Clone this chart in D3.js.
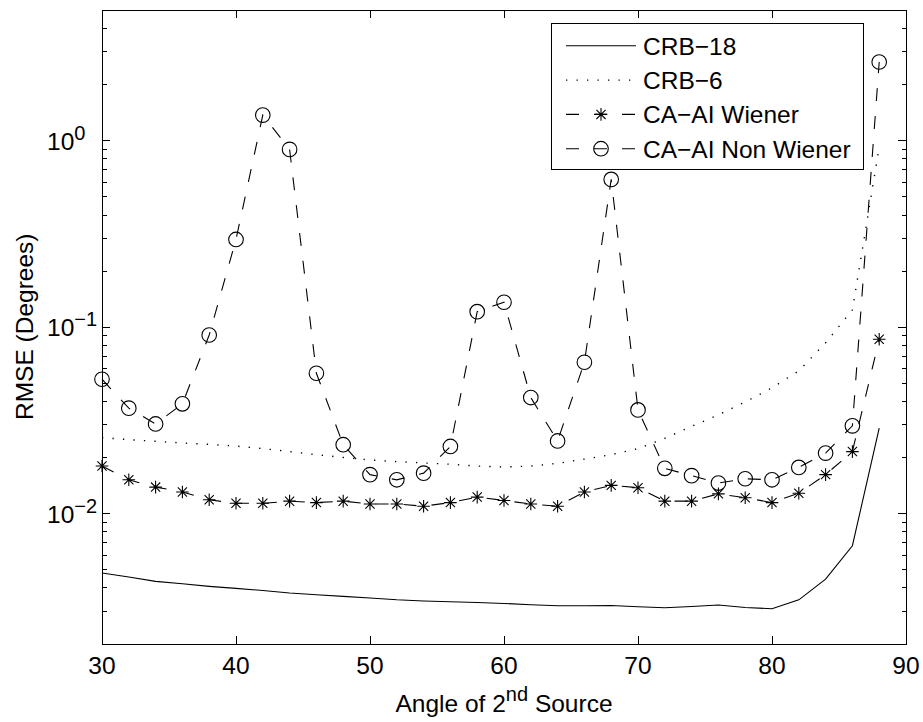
<!DOCTYPE html>
<html>
<head>
<meta charset="utf-8">
<script src="https://cdn.jsdelivr.net/npm/d3@7"></script>
<style>
  body { margin: 0; background: #fff; }
  text { font-family: 'Liberation Sans', Arial, Helvetica, sans-serif; fill: #000; }
</style>
</head>
<body>
<div id="chart"></div>
<script>
// angle of the 2nd source (degrees)
const angles = [30, 32, 34, 36, 38, 40, 42, 44, 46, 48, 50, 52, 54, 56, 58,
  60, 62, 64, 66, 68, 70, 72, 74, 76, 78, 80, 82, 84, 86, 88]

// RMSE values (degrees)
const crb18 = [0.00478, 0.00455, 0.00431, 0.00418, 0.00405, 0.00395, 0.00385, 0.00373, 0.00365, 0.00358,
  0.00351, 0.00343, 0.00338, 0.00335, 0.00332, 0.00328, 0.00323, 0.00319, 0.00319, 0.0032,
  0.00315, 0.00311, 0.00316, 0.00322, 0.00312, 0.00307, 0.00343, 0.00443, 0.00669, 0.0286]
const crb6 = [0.0254, 0.0248, 0.0243, 0.0238, 0.0234, 0.0229, 0.0222, 0.0214, 0.0206, 0.0199,
  0.0193, 0.0189, 0.0186, 0.0183, 0.0179, 0.0177, 0.0179, 0.0185, 0.0195, 0.0206,
  0.0222, 0.0252, 0.0292, 0.0337, 0.0395, 0.047, 0.058, 0.082, 0.123, 0.92]
const wiener = [0.0179, 0.0151, 0.0138, 0.0130, 0.0118, 0.0113, 0.0113, 0.0116, 0.0114, 0.0116,
  0.0112, 0.0112, 0.0109, 0.0114, 0.0122, 0.0117, 0.0112, 0.0109, 0.0130, 0.0141,
  0.0137, 0.0116, 0.0116, 0.0127, 0.0121, 0.0114, 0.0128, 0.0161, 0.0214, 0.0857]
const nonWiener = [0.0523, 0.0366, 0.0301, 0.0386, 0.0903, 0.294, 1.365, 0.894, 0.0563, 0.0233,
  0.0161, 0.0151, 0.0164, 0.0228, 0.1205, 0.1353, 0.0417, 0.0244, 0.0645, 0.617,
  0.0358, 0.0174, 0.0159, 0.0145, 0.0153, 0.0151, 0.0176, 0.0210, 0.0294, 2.63]

const seriesNames = ['CRB\u221218', 'CRB\u22126', 'CA\u2212AI Wiener', 'CA\u2212AI Non Wiener']
const xTicks = [30, 40, 50, 60, 70, 80, 90]
const yExponents = [-2, -1, 0]
const yDecades = [0.001, 0.01, 0.1, 1]
const mantissas = [2, 3, 4, 5, 6, 7, 8, 9]

const width = 923
const height = 722
const plot = { left: 102, right: 906, top: 10, bottom: 643.5 }
const fontSize = 24.5

const xScale = d3.scaleLinear()
    .domain([30, 90])
    .range([plot.left, plot.right])

const yScale = d3.scaleLog()
    .domain([0.002, 5])
    .range([plot.bottom, plot.top])

const yMajor = yExponents.map(e => Math.pow(10, e))
const yMinor = []
yDecades.forEach(d => mantissas.forEach(m => {
  const v = +(d * m).toPrecision(3)
  if (v >= 0.002 && v <= 5) yMinor.push(v)
}))

const svg = d3.select('#chart').append('svg')
    .attr('width', width)
    .attr('height', height)
    .style('display', 'block')
    .style('background', '#fff')

// axes: ticks point inward on all four sides
function styleAxis(g) {
  g.selectAll('path, line')
      .attr('stroke', '#000')
      .attr('stroke-width', 1)
  g.selectAll('text').remove()
}

svg.append('g')
    .attr('transform', `translate(0, ${plot.bottom})`)
    .attr('shape-rendering', 'crispEdges')
    .call(d3.axisBottom(xScale).tickValues(xTicks).tickSize(-8).tickSizeOuter(0))
    .call(styleAxis)

svg.append('g')
    .attr('transform', `translate(0, ${plot.top})`)
    .attr('shape-rendering', 'crispEdges')
    .call(d3.axisTop(xScale).tickValues(xTicks).tickSize(-8).tickSizeOuter(0))
    .call(styleAxis)

const axisSides = [
  { axis: d3.axisLeft, x: plot.left },
  { axis: d3.axisRight, x: plot.right }
]
axisSides.forEach(side => {
  svg.append('g')
      .attr('transform', `translate(${side.x}, 0)`)
      .attr('shape-rendering', 'crispEdges')
      .call(side.axis(yScale).tickValues(yMajor).tickSize(-8).tickSizeOuter(0))
      .call(styleAxis)
  svg.append('g')
      .attr('transform', `translate(${side.x}, 0)`)
      .attr('shape-rendering', 'crispEdges')
      .call(side.axis(yScale).tickValues(yMinor).tickSize(-4.5).tickSizeOuter(0))
      .call(styleAxis)
})

// tick labels
svg.append('g').selectAll('text')
    .data(xTicks).enter()
  .append('text')
    .attr('x', d => xScale(d))
    .attr('y', 674)
    .attr('text-anchor', 'middle')
    .attr('font-size', fontSize)
    .text(d => d)

const yLabels = svg.append('g').selectAll('text')
    .data(yExponents).enter()
  .append('text')
    .attr('x', 47)
    .attr('y', e => yScale(Math.pow(10, e)) + 9.5)
    .attr('font-size', fontSize)
yLabels.append('tspan').text('10')
yLabels.append('tspan')
    .attr('dy', -10)
    .attr('font-size', 20)
    .text(e => e < 0 ? '\u2212' + Math.abs(e) : e)

// axis titles
const xTitle = svg.append('text')
    .attr('x', (plot.left + plot.right) / 2)
    .attr('y', 711.5)
    .attr('text-anchor', 'middle')
    .attr('font-size', fontSize)
xTitle.append('tspan').text('Angle of 2')
xTitle.append('tspan').attr('dy', -11).attr('font-size', 20).text('nd')
xTitle.append('tspan').attr('dy', 11).text(' Source')

svg.append('text')
    .attr('transform', `translate(33, ${(plot.top + plot.bottom) / 2}) rotate(-90)`)
    .attr('text-anchor', 'middle')
    .attr('font-size', fontSize)
    .text('RMSE (Degrees)')

// series
const styles = [
  { values: crb18, dash: null, marker: null },
  { values: crb6, dash: '1.3 9.2', marker: null, cap: 'round' },
  { values: wiener, dash: '13 15', marker: 'star' },
  { values: nonWiener, dash: '13 15', marker: 'circle' }
]

const line = d3.line()
    .x(d => xScale(d[0]))
    .y(d => yScale(d[1]))

const dataLayer = svg.append('g')

styles.forEach(s => {
  const pts = angles.map((a, i) => [a, s.values[i]])
  dataLayer.append('path')
      .datum(pts)
      .attr('fill', 'none')
      .attr('stroke', '#000')
      .attr('stroke-width', s.dash && s.dash.startsWith('1.3') ? 1.4 : 1.1)
      .attr('stroke-dasharray', s.dash)
      .attr('d', line)
  if (s.marker) {
    pts.forEach(p => drawMarker(dataLayer, s.marker, xScale(p[0]), yScale(p[1])))
  }
})

function drawMarker(g, type, cx, cy) {
  if (type === 'circle') {
    g.append('circle')
        .attr('cx', cx)
        .attr('cy', cy)
        .attr('r', 7.3)
        .attr('fill', 'none')
        .attr('stroke', '#000')
        .attr('stroke-width', 1.1)
  } else {
    const r = 6.3
    const q = 4.6
    g.append('path')
        .attr('d', `M${cx - r},${cy}H${cx + r}M${cx},${cy - r}V${cy + r}` +
          `M${cx - q},${cy - q}L${cx + q},${cy + q}M${cx - q},${cy + q}L${cx + q},${cy - q}`)
        .attr('fill', 'none')
        .attr('stroke', '#000')
        .attr('stroke-width', 1.1)
  }
}

// legend
const legend = svg.append('g')
legend.append('rect')
    .attr('x', 551)
    .attr('y', 23)
    .attr('width', 312)
    .attr('height', 146)
    .attr('fill', '#fff')
    .attr('stroke', '#000')
    .attr('stroke-width', 1)
    .attr('shape-rendering', 'crispEdges')

const rowY = [45.8, 80.1, 114.4, 148.7]
styles.forEach((s, i) => {
  const y = rowY[i]
  legend.append('line')
      .attr('x1', 566)
      .attr('x2', 636)
      .attr('y1', y)
      .attr('y2', y)
      .attr('stroke', '#000')
      .attr('stroke-width', s.dash && s.dash.startsWith('1.3') ? 1.4 : 1.1)
      .attr('stroke-dasharray', s.dash)
  if (s.marker) drawMarker(legend, s.marker, 601, y)
  legend.append('text')
      .attr('x', 643)
      .attr('y', y + 8.8)
      .attr('font-size', fontSize)
      .text(seriesNames[i])
})
</script>
</body>
</html>
